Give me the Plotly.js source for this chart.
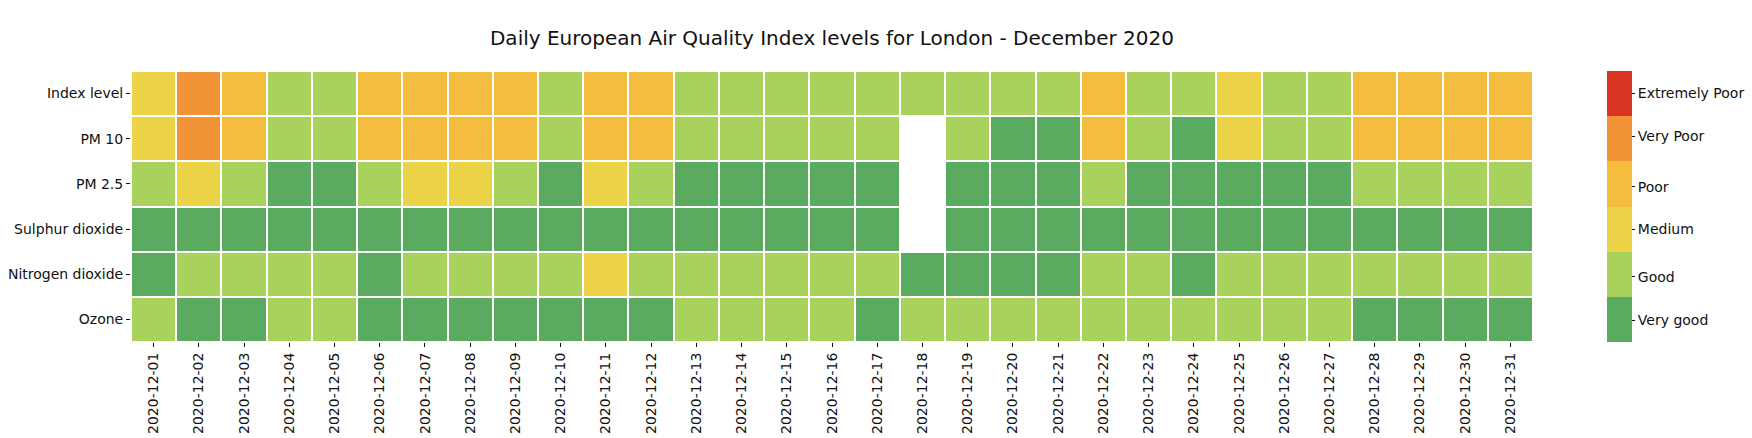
<!DOCTYPE html>
<html>
<head>
<meta charset="utf-8">
<script src="https://cdn.plot.ly/plotly-3.0.1.min.js"></script>
<style>html,body{margin:0;padding:0;background:#fff;}#chart{width:1752px;height:438px;}</style>
</head>
<body>
<div id="chart"></div>
<script>
const dates = ['2020-12-01','2020-12-02','2020-12-03','2020-12-04','2020-12-05','2020-12-06','2020-12-07','2020-12-08','2020-12-09','2020-12-10','2020-12-11','2020-12-12','2020-12-13','2020-12-14','2020-12-15','2020-12-16','2020-12-17','2020-12-18','2020-12-19','2020-12-20','2020-12-21','2020-12-22','2020-12-23','2020-12-24','2020-12-25','2020-12-26','2020-12-27','2020-12-28','2020-12-29','2020-12-30','2020-12-31'];
const pollutants = ['Index level','PM 10','PM 2.5','Sulphur dioxide','Nitrogen dioxide','Ozone'];
const levelNames = ['Very good','Good','Medium','Poor','Very Poor','Extremely Poor'];
const levelColors = ['#5AAA5F','#A8D25C','#ECD347','#F5BD40','#F19336','#D93522'];

// 1=Very good, 2=Good, 3=Medium, 4=Poor, 5=Very Poor, 6=Extremely Poor
const indexLevel = [3,5,4,2,2,4,4,4,4,2,4,4,2,2,2,2,2,2,2,2,2,4,2,2,3,2,2,4,4,4,4];
const pm10       = [3,5,4,2,2,4,4,4,4,2,4,4,2,2,2,2,2,null,2,1,1,4,2,1,3,2,2,4,4,4,4];
const pm25       = [2,3,2,1,1,2,3,3,2,1,3,2,1,1,1,1,1,null,1,1,1,2,1,1,1,1,1,2,2,2,2];
const so2        = [1,1,1,1,1,1,1,1,1,1,1,1,1,1,1,1,1,null,1,1,1,1,1,1,1,1,1,1,1,1,1];
const no2        = [1,2,2,2,2,1,2,2,2,2,3,2,2,2,2,2,2,1,1,1,1,2,2,1,2,2,2,2,2,2,2];
const ozone      = [2,1,1,2,2,1,1,1,1,1,1,1,2,2,2,2,1,2,2,2,2,2,2,2,2,2,2,1,1,1,1];

const z = [indexLevel, pm10, pm25, so2, no2, ozone];

const n = levelColors.length;
const colorscale = [];
levelColors.forEach((c, i) => { colorscale.push([i / n, c]); colorscale.push([(i + 1) / n, c]); });

const font = {family: 'DejaVu Sans, sans-serif', size: 14, color: '#111'};

const trace = {
  type: 'heatmap',
  x: dates,
  y: pollutants,
  z: z,
  zmin: 0.5,
  zmax: 6.5,
  colorscale: colorscale,
  xgap: 2,
  ygap: 2,
  hoverongaps: false,
  colorbar: {
    x: 1.0528, xanchor: 'left', xref: 'paper', xpad: 0,
    y: 0.5, yanchor: 'middle', ypad: 0,
    len: 1, lenmode: 'fraction',
    thickness: 25, thicknessmode: 'pixels',
    outlinewidth: 0,
    tickmode: 'array',
    tickvals: [0.98, 1.94, 3.0, 3.94, 5.05, 6.0],
    ticktext: levelNames,
    ticks: 'outside', ticklen: 3.5, tickwidth: 1, tickcolor: '#111',
    tickfont: font
  }
};

const layout = {
  width: 1752, height: 438,
  margin: {l: 131, r: 219, t: 71, b: 96, pad: 0, autoexpand: false},
  paper_bgcolor: '#fff', plot_bgcolor: '#fff',
  font: font,
  title: {
    text: 'Daily European Air Quality Index levels for London - December 2020',
    font: {family: 'DejaVu Sans, sans-serif', size: 20, color: '#111'},
    x: 0.5, xref: 'paper', xanchor: 'center',
    y: 1 - 38/438, yref: 'container', yanchor: 'middle'
  },
  xaxis: {
    type: 'category', tickangle: -90, ticks: 'outside', ticklen: 4, tickwidth: 1, tickcolor: '#111',
    showgrid: false, zeroline: false, showline: false, tickfont: font, fixedrange: true
  },
  yaxis: {
    type: 'category', autorange: 'reversed', ticks: 'outside', ticklen: 4, tickwidth: 1, tickcolor: '#111',
    showgrid: false, zeroline: false, showline: false, tickfont: font, fixedrange: true
  }
};

Plotly.newPlot('chart', [trace], layout, {displayModeBar: false, staticPlot: true});
</script>
</body>
</html>
